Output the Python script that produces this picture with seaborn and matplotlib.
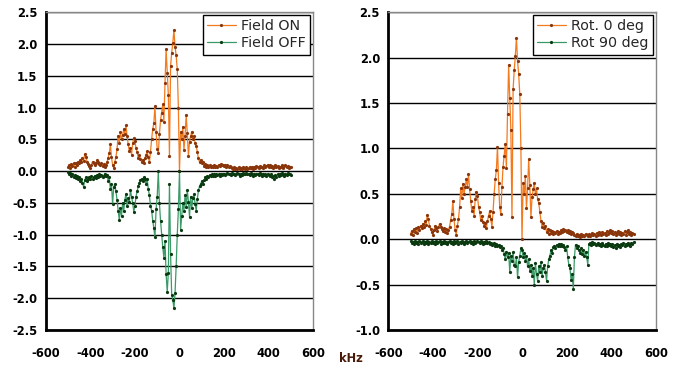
import numpy as np
import pandas as pd
import matplotlib
matplotlib.use("Agg")
import matplotlib.pyplot as plt
import seaborn as sns

# frequency axis, kHz (5 kHz steps)
khz = list(range(-500, 505, 5))

# Field ON / Rot. 0 deg (same spectrum in both panels)
field_on = [
    0.06, 0.09, 0.05, 0.11, 0.08, 0.12, 0.07, 0.13, 0.10, 0.15,
    0.12, 0.17, 0.14, 0.20, 0.16, 0.27, 0.22, 0.15, 0.11, 0.08,
    0.05, 0.10, 0.15, 0.12, 0.09, 0.13, 0.17, 0.14, 0.11, 0.09,
    0.12, 0.08, 0.11, 0.07, 0.10, 0.14, 0.21, 0.28, 0.42, 0.22,
    0.10, 0.05, 0.15, 0.22, 0.35, 0.56, 0.45, 0.61, 0.50, 0.57,
    0.66, 0.58, 0.72, 0.55, 0.42, 0.31, 0.36, 0.26, 0.44, 0.52,
    0.48, 0.36, 0.30, 0.21, 0.26, 0.19, 0.15, 0.18, 0.12, 0.20,
    0.26, 0.31, 0.22, 0.14, 0.30, 0.50, 0.66, 0.76, 1.02, 0.62,
    0.35, 0.28, 0.58, 0.80, 0.92, 1.05, 0.78, 1.38, 1.92, 1.55,
    1.20, 0.24, 1.65, 1.86, 2.02, 2.22, 1.96, 1.82, 1.60, 1.00,
    0.00, 0.62, 0.50, 0.70, 0.34, 0.56, 0.88, 0.60, 0.24, 0.46,
    0.55, 0.62, 0.50, 0.56, 0.44, 0.40, 0.30, 0.20, 0.14, 0.18,
    0.12, 0.15, 0.08, 0.11, 0.06, 0.10, 0.07, 0.09, 0.06, 0.08,
    0.07, 0.09, 0.06, 0.08, 0.07, 0.10, 0.08, 0.11, 0.09, 0.10,
    0.08, 0.10, 0.07, 0.09, 0.06, 0.08, 0.07, 0.05, 0.04, 0.06,
    0.04, 0.05, 0.03, 0.06, 0.04, 0.05, 0.04, 0.06, 0.05, 0.04,
    0.06, 0.04, 0.05, 0.07, 0.05, 0.06, 0.04, 0.07, 0.05, 0.08,
    0.06, 0.05, 0.08, 0.06, 0.07, 0.05, 0.09, 0.06, 0.08, 0.10,
    0.07, 0.09, 0.06, 0.08, 0.05, 0.07, 0.09, 0.06, 0.08, 0.05,
    0.07, 0.06, 0.09, 0.05, 0.08, 0.10, 0.06, 0.08, 0.05, 0.07,
    0.06,
]

field_off = [
    -0.02, -0.05, -0.03, -0.07, -0.05, -0.09, -0.06, -0.11, -0.08, -0.13,
    -0.10, -0.15, -0.12, -0.18, -0.25, -0.14, -0.10, -0.16, -0.12, -0.09,
    -0.13, -0.08, -0.12, -0.10, -0.07, -0.11, -0.06, -0.09, -0.05, -0.08,
    -0.06, -0.10, -0.07, -0.04, -0.08, -0.06, -0.15, -0.10, -0.28, -0.20,
    -0.52, -0.25, -0.20, -0.32, -0.45, -0.62, -0.77, -0.58, -0.70, -0.50,
    -0.62, -0.45, -0.36, -0.55, -0.42, -0.48, -0.30, -0.40, -0.50, -0.64,
    -0.55, -0.40, -0.32, -0.24, -0.18, -0.14, -0.12, -0.16, -0.10, -0.13,
    -0.20, -0.12, -0.28, -0.38, -0.55, -0.62, -0.78, -0.90, -1.04, -0.60,
    -0.40, 0.00, -0.50, -0.78, -1.00, -1.20, -1.36, -1.10, -1.62, -1.90,
    -1.60, -0.20, -1.30, -1.95, -2.02, -2.16, -1.92, -1.50, -1.00, -0.60,
    0.00, -0.92, -0.70, -0.50, -0.62, -0.38, -0.56, -0.30, -0.48, -0.72,
    -0.40, -0.58, -0.42, -0.36, -0.52, -0.62, -0.44, -0.30, -0.24, -0.20,
    -0.16, -0.20, -0.14, -0.10, -0.12, -0.08, -0.10, -0.06, -0.08, -0.05,
    -0.07, -0.05, -0.08, -0.04, -0.06, -0.05, -0.07, -0.04, -0.06, -0.05,
    -0.04, -0.06, -0.05, -0.03, -0.05, -0.04, -0.06, -0.03, -0.05, -0.04,
    -0.06, -0.04, -0.03, -0.05, -0.07, -0.04, -0.06, -0.03, -0.05, -0.04,
    -0.03, -0.05, -0.04, -0.06, -0.03, -0.05, -0.07, -0.04, -0.06, -0.05,
    -0.04, -0.06, -0.03, -0.05, -0.07, -0.04, -0.06, -0.05, -0.08, -0.04,
    -0.06, -0.08, -0.05, -0.10, -0.07, -0.12, -0.06, -0.09, -0.05, -0.07,
    -0.04, -0.06, -0.03, -0.05, -0.07, -0.04, -0.06, -0.03, -0.05, -0.04,
    -0.06,
]

rot_90 = [
    -0.02, -0.04, -0.03, -0.05, -0.02, -0.04, -0.03, -0.05, -0.02, -0.04,
    -0.03, -0.02, -0.05, -0.03, -0.04, -0.02, -0.05, -0.03, -0.04, -0.02,
    -0.04, -0.03, -0.05, -0.02, -0.04, -0.03, -0.02, -0.05, -0.03, -0.04,
    -0.02, -0.04, -0.03, -0.05, -0.03, -0.02, -0.04, -0.03, -0.05, -0.02,
    -0.04, -0.03, -0.02, -0.05, -0.03, -0.04, -0.02, -0.03, -0.05, -0.03,
    -0.02, -0.04, -0.03, -0.02, -0.04, -0.03, -0.05, -0.02, -0.04, -0.03,
    -0.02, -0.03, -0.04, -0.02, -0.03, -0.05, -0.03, -0.04, -0.02, -0.04,
    -0.03, -0.05, -0.04, -0.06, -0.05, -0.04, -0.07, -0.05, -0.08, -0.06,
    -0.09, -0.07, -0.12, -0.10, -0.16, -0.22, -0.14, -0.20, -0.15, -0.36,
    -0.18, -0.24, -0.14, -0.28, -0.30, -0.20, -0.42, -0.25, -0.18, -0.10,
    -0.12, -0.20, -0.15, -0.24, -0.18, -0.30, -0.22, -0.35, -0.28, -0.40,
    -0.32, -0.50, -0.26, -0.38, -0.46, -0.30, -0.36, -0.25, -0.40, -0.32,
    -0.28, -0.36, -0.46, -0.30, -0.22, -0.18, -0.12, -0.15, -0.09, -0.07,
    -0.10, -0.06, -0.08, -0.05, -0.07, -0.05, -0.08, -0.06, -0.09, -0.12,
    -0.08, -0.20, -0.28, -0.32, -0.45, -0.38, -0.55, -0.20, -0.06, -0.10,
    -0.08, -0.12, -0.15, -0.10, -0.16, -0.12, -0.18, -0.14, -0.20, -0.28,
    -0.05, -0.04, -0.06, -0.03, -0.05, -0.04, -0.06, -0.05, -0.04, -0.06,
    -0.05, -0.07, -0.04, -0.06, -0.08, -0.05, -0.07, -0.04, -0.06, -0.05,
    -0.07, -0.05, -0.09, -0.06, -0.10, -0.05, -0.08, -0.06, -0.09, -0.05,
    -0.06, -0.04, -0.07, -0.05, -0.06, -0.04, -0.05, -0.07, -0.04, -0.05,
    -0.03,
]

df = pd.DataFrame({"kHz": khz, "on": field_on, "off": field_off, "rot90": rot_90})

sns.set_theme(style="white")
plt.rcParams["font.family"] = ["DejaVu Sans"]
plt.rcParams["axes.unicode_minus"] = False

ORANGE, BROWN = "#f47a1e", "#8a360c"
GREEN, DKGREEN = "#3a9a68", "#0b3a10"

fig = plt.figure(figsize=(6.74, 3.70), dpi=100)
ax1 = fig.add_axes([0.0678, 0.108, 0.397, 0.859])
ax2 = fig.add_axes([0.576, 0.108, 0.397, 0.859])


def trace(ax, col, line_c, mark_c, label):
    sns.lineplot(data=df, x="kHz", y=col, ax=ax, color=line_c, linewidth=0.9,
                 marker="o", markersize=2.3, markerfacecolor=mark_c,
                 markeredgecolor=mark_c, markeredgewidth=0, estimator=None,
                 sort=False, label=label)


trace(ax1, "on", ORANGE, BROWN, "Field ON")
trace(ax1, "off", GREEN, DKGREEN, "Field OFF")
trace(ax2, "on", ORANGE, BROWN, "Rot. 0 deg")
trace(ax2, "rot90", GREEN, DKGREEN, "Rot 90 deg")

for ax, ylo in [(ax1, -2.5), (ax2, -1.0)]:
    ax.set_xlim(-600, 600)
    ax.set_ylim(ylo, 2.5)
    ax.set_xticks(np.arange(-600, 601, 200))
    ax.set_yticks(np.arange(ylo, 2.51, 0.5))
    ax.set_yticklabels([f"{v:.1f}" for v in np.arange(ylo, 2.51, 0.5)])
    ax.set_xlabel("")
    ax.set_ylabel("")
    ax.yaxis.grid(True, color="black", linewidth=1)
    ax.xaxis.grid(False)
    ax.set_axisbelow(True)
    for s in ["left", "bottom"]:
        ax.spines[s].set_color("black")
        ax.spines[s].set_linewidth(2)
    for s in ["top", "right"]:
        ax.spines[s].set_color("#888888")
        ax.spines[s].set_linewidth(1)
    ax.tick_params(axis="both", direction="out", length=3, width=1.5,
                   color="black", labelsize=8.3, labelcolor="black")
    ax.tick_params(axis="x", pad=9)
    ax.tick_params(axis="y", pad=3)
    for t in ax.get_xticklabels() + ax.get_yticklabels():
        t.set_fontweight("bold")
    leg = ax.legend(loc="upper right", fontsize=10.3, frameon=True,
                    fancybox=False, framealpha=1, edgecolor="black",
                    borderaxespad=0.2, handlelength=2.0, handletextpad=0.4,
                    labelspacing=0.2, borderpad=0.3)
    leg.get_frame().set_linewidth(1)

fig.text(0.52, 0.03, "kHz", fontsize=8.3, fontweight="bold", color="#4a1a08",
         ha="center", va="center")

fig.savefig("out.png", dpi=100)
